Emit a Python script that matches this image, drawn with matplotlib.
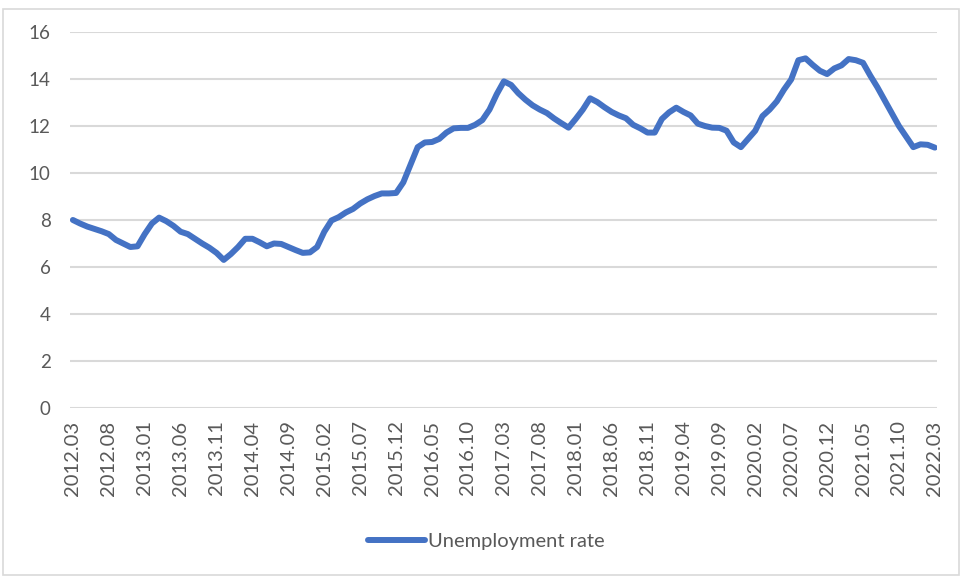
import numpy as np
import matplotlib.pyplot as plt
from matplotlib.patches import Rectangle

# monthly youth unemployment rate, 2012.03 .. 2022.03
rate = [
    8.00, 7.85, 7.72, 7.62, 7.52, 7.40, 7.15, 7.00, 6.85, 6.88,
    7.40, 7.85, 8.10, 7.95, 7.75, 7.50, 7.40, 7.20, 7.00, 6.82,
    6.60, 6.30, 6.55, 6.85, 7.20, 7.20, 7.05, 6.88, 7.00, 6.98,
    6.85, 6.72, 6.60, 6.62, 6.85, 7.50, 7.98, 8.12, 8.32, 8.47,
    8.70, 8.88, 9.02, 9.13, 9.13, 9.15, 9.60, 10.35, 11.10, 11.30,
    11.32, 11.45, 11.72, 11.90, 11.92, 11.92, 12.05, 12.25, 12.70, 13.35,
    13.90, 13.75, 13.40, 13.12, 12.88, 12.70, 12.55, 12.32, 12.12, 11.93,
    12.30, 12.70, 13.18, 13.02, 12.80, 12.60, 12.45, 12.33, 12.05, 11.90,
    11.72, 11.72, 12.30, 12.58, 12.78, 12.60, 12.45, 12.10, 12.00, 11.93,
    11.92, 11.80, 11.30, 11.10, 11.45, 11.80, 12.42, 12.70, 13.05, 13.55,
    13.98, 14.80, 14.88, 14.60, 14.35, 14.21, 14.45, 14.58, 14.85, 14.80,
    14.69, 14.15, 13.65, 13.10, 12.55, 12.00, 11.55, 11.10, 11.22, 11.20,
    11.08,
]

tick_labels = [
    "2012.03", "2012.08", "2013.01", "2013.06", "2013.11", "2014.04",
    "2014.09", "2015.02", "2015.07", "2015.12", "2016.05", "2016.10",
    "2017.03", "2017.08", "2018.01", "2018.06", "2018.11", "2019.04",
    "2019.09", "2020.02", "2020.07", "2020.12", "2021.05", "2021.10",
    "2022.03",
]
y_ticks = [0, 2, 4, 6, 8, 10, 12, 14, 16]

plt.rcParams["font.family"] = ["Lato", "DejaVu Sans"]
label_color = "#595959"

fig = plt.figure(figsize=(9.63, 5.77), dpi=100)
ax = fig.add_axes([0.0727, 0.293, 0.9003, 0.6515])

months = np.arange(len(rate))
ax.plot(months, rate, color="#4472C4", lw=4.3, solid_capstyle="round",
        solid_joinstyle="round", label="Unemployment rate", zorder=3)

ax.set_ylim(0, 16)
ax.set_xlim(-0.4, 120.3)
ax.set_yticks(y_ticks)
ax.set_xticks(np.arange(0, len(rate), 5))
ax.set_xticklabels(tick_labels, rotation=90)
ax.tick_params(axis="both", length=0, labelcolor=label_color)
ax.tick_params(axis="y", pad=14, labelsize=13.5)
ax.tick_params(axis="x", pad=9, labelsize=14.5)
ax.grid(axis="y", color="#D9D9D9", lw=1.5)
ax.set_axisbelow(True)
for s in ax.spines.values():
    s.set_visible(False)

leg = fig.legend(loc="center", bbox_to_anchor=(0.505, 0.062), frameon=False,
                 fontsize=14.5, handlelength=2.85, handletextpad=0.12)
for t in leg.get_texts():
    t.set_color(label_color)

# chart area border
fig.patches.append(Rectangle((3 / 963, 2 / 577), 956 / 963, 566 / 577,
                             transform=fig.transFigure, fill=False,
                             ec="#D9D9D9", lw=1.2))

fig.savefig("out.png", dpi=100)
